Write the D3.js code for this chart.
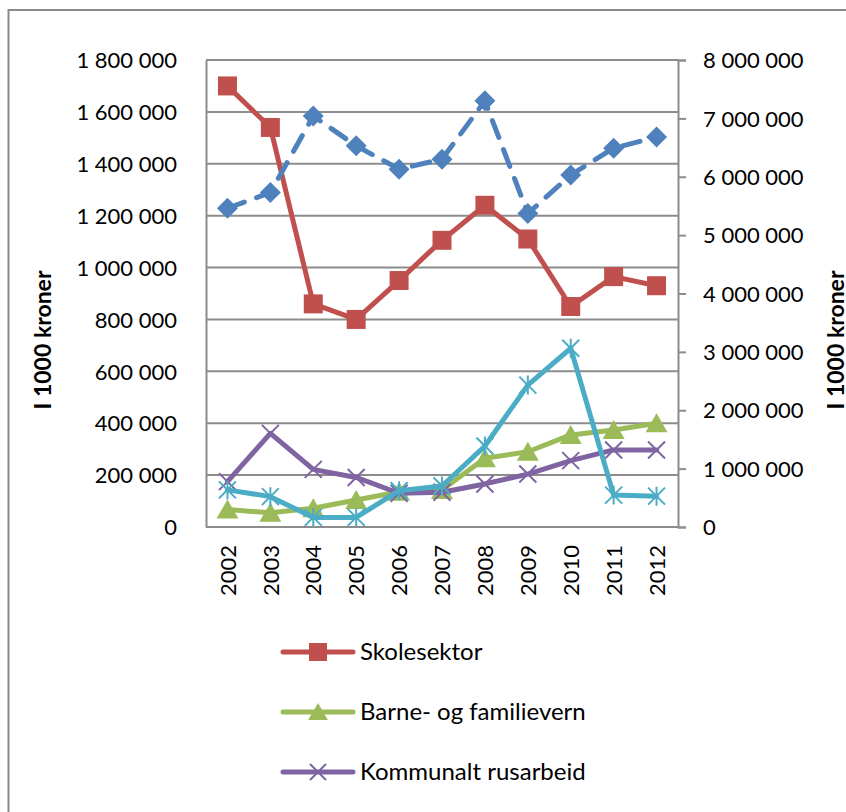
<!DOCTYPE html>
<html lang="no">
<head>
  <meta charset="utf-8">
  <title>I 1000 kroner</title>
  <script src="https://d3js.org/d3.v7.min.js"></script>
  <style>
    body { margin: 0; background: #fff; }
    text { font-family: Lato, "Open Sans", sans-serif; fill: #000; }
  </style>
</head>
<body>
<div id="vis"></div>
<script>
  // data
  var aar = ["2002", "2003", "2004", "2005", "2006", "2007", "2008", "2009", "2010", "2011", "2012"];
  var skolesektor = [1700000, 1540000, 860000, 800000, 950000, 1105000, 1240000, 1110000, 850000, 965000, 930000];
  var barnevern = [67000, 55000, 72000, 104000, 136000, 143000, 265000, 290000, 355000, 374000, 400000];
  var rusarbeid = [175000, 361000, 222000, 191000, 130000, 134000, 166000, 204000, 256000, 297000, 297000];
  var cyanSerie = [143000, 117000, 37000, 37000, 140000, 158000, 312000, 547000, 689000, 123000, 119000];
  var blaaSerie = [5460000, 5730000, 7040000, 6530000, 6130000, 6300000, 7300000, 5370000, 6030000, 6490000, 6680000]; // høyre akse
  var venstreTicks = [0, 200000, 400000, 600000, 800000, 1000000, 1200000, 1400000, 1600000, 1800000];
  var hoyreTicks = [0, 1000000, 2000000, 3000000, 4000000, 5000000, 6000000, 7000000, 8000000];

  var W = 846, H = 812;
  var plot = { left: 206, right: 678, top: 60, bottom: 527 };

  var svg = d3.select("#vis").append("svg")
    .attr("width", W).attr("height", H);

  // chart border (cut off right and bottom)
  svg.append("rect")
    .attr("x", 8.5).attr("y", 10)
    .attr("width", 900).attr("height", 900)
    .attr("fill", "none").attr("stroke", "#8a8a8a").attr("stroke-width", 2);

  var x = d3.scalePoint().domain(aar).range([plot.left, plot.right]).padding(0.5);
  var yL = d3.scaleLinear().domain([0, 1800000]).range([plot.bottom, plot.top]);
  var yR = d3.scaleLinear().domain([0, 8000000]).range([plot.bottom, plot.top]);

  var fmt = function (v) { return d3.format(",")(v).replace(/,/g, " "); };

  // gridlines
  svg.append("g").selectAll("line")
    .data(venstreTicks.slice(1))
    .enter().append("line")
    .attr("x1", plot.left).attr("x2", plot.right)
    .attr("y1", d => yL(d)).attr("y2", d => yL(d))
    .attr("stroke", "#8c8c8c").attr("stroke-width", 2);

  // left axis
  var gL = svg.append("g")
    .attr("transform", "translate(" + plot.left + ",0)")
    .call(d3.axisLeft(yL).tickValues(venstreTicks).tickSize(0).tickPadding(29).tickFormat(fmt));
  gL.select(".domain").attr("stroke", "#8c8c8c").attr("stroke-width", 2);
  gL.selectAll("text").style("font-size", "22px").attr("font-family", null).attr("dy", "0.35em");

  // right axis
  var gR = svg.append("g")
    .attr("transform", "translate(" + plot.right + ",0)")
    .call(d3.axisRight(yR).tickValues(hoyreTicks).tickSize(8).tickPadding(17).tickFormat(fmt));
  gR.select(".domain").attr("stroke", "#8c8c8c").attr("stroke-width", 2);
  gR.selectAll("line").attr("stroke", "#8c8c8c").attr("stroke-width", 2);
  gR.selectAll("text").style("font-size", "22px").attr("font-family", null).attr("dy", "0.35em");

  // bottom axis
  var gX = svg.append("g")
    .attr("transform", "translate(0," + plot.bottom + ")")
    .call(d3.axisBottom(x).tickSize(0).tickPadding(0));
  gX.select(".domain").attr("stroke", "#8c8c8c").attr("stroke-width", 2)
    .attr("d", "M" + plot.left + ",0H" + plot.right);
  gX.selectAll("text")
    .style("font-size", "22px").attr("font-family", null)
    .attr("text-anchor", "end")
    .attr("transform", "translate(0,18) rotate(-90)")
    .attr("x", 0).attr("y", 0).attr("dy", "0.35em");

  // axis titles
  svg.append("text")
    .attr("transform", "translate(43,340) rotate(-90)")
    .attr("text-anchor", "middle").attr("dy", "0.35em")
    .style("font-size", "23px").style("font-weight", "bold")
    .text("I 1000 kroner");
  svg.append("text")
    .attr("transform", "translate(836,340) rotate(-90)")
    .attr("text-anchor", "middle").attr("dy", "0.35em")
    .style("font-size", "23px").style("font-weight", "bold")
    .text("I 1000 kroner");

  // marker shapes
  function firkant(p, s) { p.rect(-s / 2, -s / 2, s, s); }
  function trekant(p, s) { p.moveTo(0, -s * 0.5); p.lineTo(s * 0.55, s * 0.45); p.lineTo(-s * 0.55, s * 0.45); p.closePath(); }
  function kryss(p, s) { var h = s / 2; p.moveTo(-h, -h); p.lineTo(h, h); p.moveTo(-h, h); p.lineTo(h, -h); }
  function stjerne(p, s) { kryss(p, s); p.moveTo(0, -s / 2 - 1); p.lineTo(0, s / 2 + 1); }
  function rute(p, s) { var h = s / 2; p.moveTo(0, -h); p.lineTo(h, 0); p.lineTo(0, h); p.lineTo(-h, 0); p.closePath(); }
  function markor(form, s) { var p = d3.path(); form(p, s); return p.toString(); }

  var serier = [
    { navn: "Skolesektor", verdier: skolesektor, y: yL, farge: "#C0504D", form: firkant, str: 19, fyll: true },
    { navn: "Barne- og familievern", verdier: barnevern, y: yL, farge: "#9BBB59", form: trekant, str: 20, fyll: true },
    { navn: "Kommunalt rusarbeid", verdier: rusarbeid, y: yL, farge: "#8064A2", form: kryss, str: 17, fyll: false },
    { navn: "", verdier: cyanSerie, y: yL, farge: "#4BACC6", form: stjerne, str: 17, fyll: false },
    { navn: "", verdier: blaaSerie, y: yR, farge: "#4F81BD", form: rute, str: 21, fyll: true, strek: "18 13" }
  ];

  serier.forEach(function (s) {
    var linje = d3.line().x((d, i) => x(aar[i])).y(d => s.y(d));
    svg.append("path")
      .datum(s.verdier)
      .attr("d", linje)
      .attr("fill", "none")
      .attr("stroke", s.farge)
      .attr("stroke-width", 5)
      .attr("stroke-linejoin", "round")
      .attr("stroke-linecap", "round")
      .attr("stroke-dasharray", s.strek || null);
    svg.append("g").selectAll("path")
      .data(s.verdier)
      .enter().append("path")
      .attr("transform", (d, i) => "translate(" + x(aar[i]) + "," + s.y(d) + ")")
      .attr("d", markor(s.form, s.str))
      .attr("fill", s.fyll ? s.farge : "none")
      .attr("stroke", s.farge)
      .attr("stroke-width", s.fyll ? 0 : 2);
  });

  // legend
  var legende = svg.append("g");
  serier.slice(0, 3).forEach(function (s, i) {
    var ly = 652 + i * 60;
    legende.append("line")
      .attr("x1", 283).attr("x2", 353).attr("y1", ly).attr("y2", ly)
      .attr("stroke", s.farge).attr("stroke-width", 5).attr("stroke-linecap", "round");
    legende.append("path")
      .attr("transform", "translate(318," + ly + ")")
      .attr("d", markor(s.form, s.fyll ? 18 : 16))
      .attr("fill", s.fyll ? s.farge : "none")
      .attr("stroke", s.farge)
      .attr("stroke-width", s.fyll ? 0 : 2);
    legende.append("text")
      .attr("x", 360).attr("y", ly).attr("dy", "0.35em")
      .style("font-size", "24px")
      .text(s.navn);
  });
</script>
</body>
</html>
